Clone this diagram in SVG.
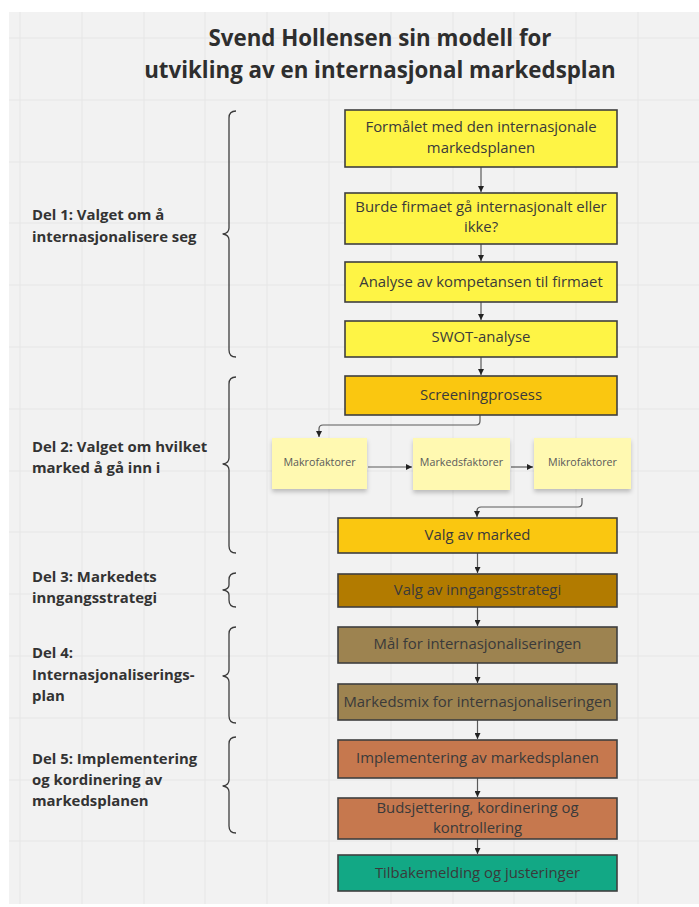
<svg xmlns="http://www.w3.org/2000/svg" width="699" height="907" viewBox="0 0 699 907">
  <defs>
    <style>
      .title { font-family: "Open Sans", "Liberation Sans", sans-serif; font-weight: 700; font-size: 22.3px; fill: #2e2e2e; text-anchor: middle; }
      .part { font-family: "Open Sans", "Liberation Sans", sans-serif; font-weight: 700; font-size: 14.9px; fill: #333333; }
      .box { stroke: #3f3f3f; stroke-width: 1.6; }
      .label { font-family: "Open Sans", "Liberation Sans", sans-serif; font-size: 14.9px; fill: #3a3a3a; text-anchor: middle; }
      .sticky { fill: #fff9b1; }
      .stxt { font-family: "Open Sans", "Liberation Sans", sans-serif; font-size: 10.7px; fill: #5a5a5a; text-anchor: middle; }
      .brace { fill: none; stroke: #3c3c3c; stroke-width: 1.3; stroke-linejoin: round; }
      .conn { fill: none; stroke: #5a5a5a; stroke-width: 1.2; }
      .grid { stroke: #e6e6e6; stroke-width: 1; }
      .y1 { fill: #fef445; }
      .y2 { fill: #fac710; }
      .y3 { fill: #b27b00; }
      .tan { fill: #9d8350; }
      .rust { fill: #c6784e; }
      .teal { fill: #12a885; }
    </style>
    <marker id="arrow" viewBox="0 0 10 10" refX="10" refY="5" markerWidth="6" markerHeight="6" orient="auto" markerUnits="userSpaceOnUse">
      <path d="M0,0 L10,5 L0,10 z" fill="#222222"/>
    </marker>
    <filter id="stickyShadow" x="-20%" y="-20%" width="140%" height="150%">
      <feDropShadow dx="0" dy="3" stdDeviation="2" flood-color="#000000" flood-opacity="0.22"/>
    </filter>
  </defs>

  <!-- canvas -->
  <rect width="699" height="907" fill="#ffffff"/>
  <rect x="9" y="12" width="690" height="892" fill="#f2f2f2"/>
  <g id="grid">
    <line class="grid" x1="20" y1="12" x2="20" y2="904"/>
    <line class="grid" x1="82" y1="12" x2="82" y2="904"/>
    <line class="grid" x1="144" y1="12" x2="144" y2="904"/>
    <line class="grid" x1="205" y1="12" x2="205" y2="904"/>
    <line class="grid" x1="267" y1="12" x2="267" y2="904"/>
    <line class="grid" x1="329" y1="12" x2="329" y2="904"/>
    <line class="grid" x1="391" y1="12" x2="391" y2="904"/>
    <line class="grid" x1="453" y1="12" x2="453" y2="904"/>
    <line class="grid" x1="514" y1="12" x2="514" y2="904"/>
    <line class="grid" x1="576" y1="12" x2="576" y2="904"/>
    <line class="grid" x1="638" y1="12" x2="638" y2="904"/>
    <line class="grid" x1="9" y1="38" x2="699" y2="38"/>
    <line class="grid" x1="9" y1="100" x2="699" y2="100"/>
    <line class="grid" x1="9" y1="162" x2="699" y2="162"/>
    <line class="grid" x1="9" y1="223" x2="699" y2="223"/>
    <line class="grid" x1="9" y1="285" x2="699" y2="285"/>
    <line class="grid" x1="9" y1="347" x2="699" y2="347"/>
    <line class="grid" x1="9" y1="409" x2="699" y2="409"/>
    <line class="grid" x1="9" y1="471" x2="699" y2="471"/>
    <line class="grid" x1="9" y1="532" x2="699" y2="532"/>
    <line class="grid" x1="9" y1="594" x2="699" y2="594"/>
    <line class="grid" x1="9" y1="656" x2="699" y2="656"/>
    <line class="grid" x1="9" y1="718" x2="699" y2="718"/>
    <line class="grid" x1="9" y1="780" x2="699" y2="780"/>
    <line class="grid" x1="9" y1="841" x2="699" y2="841"/>
  </g>

  <!-- title -->
  <g id="title">
    <text class="title" x="380" y="46">Svend Hollensen sin modell for</text>
    <text class="title" x="380" y="78">utvikling av en internasjonal markedsplan</text>
  </g>

  <!-- part labels and braces -->
  <g id="part1">
    <path class="brace" d="M236,111 Q229,111 229,118 L229,228 Q229,233 223,234 Q229,235 229,240 L229,350 Q229,357 236,357"/>
    <text class="part" x="32" y="220">Del 1: Valget om å</text>
    <text class="part" x="32" y="242">internasjonalisere seg</text>
  </g>
  <g id="part2">
    <path class="brace" d="M236,377 Q229,377 229,384 L229,458 Q229,463 223,464 Q229,465 229,470 L229,546 Q229,553 236,553"/>
    <text class="part" x="32" y="452">Del 2: Valget om hvilket</text>
    <text class="part" x="32" y="473">marked å gå inn i</text>
  </g>
  <g id="part3">
    <path class="brace" d="M236,573 Q229,573 229,580 L229,585 Q229,589 223,590 Q229,591 229,595 L229,600 Q229,607 236,607"/>
    <text class="part" x="32" y="582">Del 3: Markedets</text>
    <text class="part" x="32" y="603">inngangsstrategi</text>
  </g>
  <g id="part4">
    <path class="brace" d="M236,627 Q229,627 229,634 L229,670 Q229,675 223,676 Q229,677 229,682 L229,716 Q229,723 236,723"/>
    <text class="part" x="32" y="658">Del 4:</text>
    <text class="part" x="32" y="680">Internasjonaliserings-</text>
    <text class="part" x="32" y="701">plan</text>
  </g>
  <g id="part5">
    <path class="brace" d="M236,737 Q229,737 229,744 L229,780 Q229,785 223,786 Q229,787 229,792 L229,826 Q229,833 236,833"/>
    <text class="part" x="32" y="764">Del 5: Implementering</text>
    <text class="part" x="32" y="785">og kordinering av</text>
    <text class="part" x="32" y="806">markedsplanen</text>
  </g>

  <!-- connectors -->
  <g id="connectors">
    <line class="conn" x1="481" y1="167" x2="481" y2="192" marker-end="url(#arrow)"/>
    <line class="conn" x1="481" y1="244" x2="481" y2="261" marker-end="url(#arrow)"/>
    <line class="conn" x1="481" y1="302" x2="481" y2="320" marker-end="url(#arrow)"/>
    <line class="conn" x1="481" y1="357" x2="481" y2="375" marker-end="url(#arrow)"/>
    <path class="conn" d="M480,415 L480,421 Q480,425 476,425 L323,425 Q319,425 319,429 L319,437" marker-end="url(#arrow)"/>
    <line class="conn" x1="368" y1="467" x2="412" y2="467" marker-end="url(#arrow)"/>
    <line class="conn" x1="511" y1="467" x2="533" y2="467" marker-end="url(#arrow)"/>
    <path class="conn" d="M582,498 L582,503 Q582,507 578,507 L481,507 Q477,507 477,511 L477,517" marker-end="url(#arrow)"/>
    <line class="conn" x1="477.5" y1="553" x2="477.5" y2="573" marker-end="url(#arrow)"/>
    <line class="conn" x1="477.5" y1="607" x2="477.5" y2="626" marker-end="url(#arrow)"/>
    <line class="conn" x1="477.5" y1="663" x2="477.5" y2="683" marker-end="url(#arrow)"/>
    <line class="conn" x1="477.5" y1="720" x2="477.5" y2="739" marker-end="url(#arrow)"/>
    <line class="conn" x1="477.5" y1="778" x2="477.5" y2="797" marker-end="url(#arrow)"/>
    <line class="conn" x1="477.5" y1="839" x2="477.5" y2="854" marker-end="url(#arrow)"/>
  </g>

  <!-- process steps -->
  <g id="formalet">
    <rect class="box y1" x="345" y="110" width="272" height="57"/>
    <text class="label" x="481" y="132">Formålet med den internasjonale</text>
    <text class="label" x="481" y="153">markedsplanen</text>
  </g>
  <g id="burde">
    <rect class="box y1" x="345" y="193" width="272" height="51"/>
    <text class="label" x="481" y="212">Burde firmaet gå internasjonalt eller</text>
    <text class="label" x="481" y="232">ikke?</text>
  </g>
  <g id="analyse">
    <rect class="box y1" x="345" y="262" width="272" height="40"/>
    <text class="label" x="481" y="287">Analyse av kompetansen til firmaet</text>
  </g>
  <g id="swot">
    <rect class="box y1" x="345" y="321" width="272" height="36"/>
    <text class="label" x="481" y="342">SWOT-analyse</text>
  </g>
  <g id="screening">
    <rect class="box y2" x="345" y="376" width="272" height="39"/>
    <text class="label" x="481" y="400">Screeningprosess</text>
  </g>
  <g id="makro">
    <rect class="sticky" x="272" y="438" width="95" height="51" filter="url(#stickyShadow)"/>
    <text class="stxt" x="319.5" y="466">Makrofaktorer</text>
  </g>
  <g id="markeds">
    <rect class="sticky" x="413" y="438" width="97" height="52" filter="url(#stickyShadow)"/>
    <text class="stxt" x="461.5" y="466">Markedsfaktorer</text>
  </g>
  <g id="mikro">
    <rect class="sticky" x="534" y="438" width="97" height="51" filter="url(#stickyShadow)"/>
    <text class="stxt" x="582.5" y="466">Mikrofaktorer</text>
  </g>
  <g id="valg-marked">
    <rect class="box y2" x="338" y="518" width="279" height="35"/>
    <text class="label" x="477.5" y="540">Valg av marked</text>
  </g>
  <g id="inngangsstrategi">
    <rect class="box y3" x="338" y="574" width="279" height="33"/>
    <text class="label" x="477.5" y="595">Valg av inngangsstrategi</text>
  </g>
  <g id="mal">
    <rect class="box tan" x="338" y="627" width="279" height="36"/>
    <text class="label" x="477.5" y="649">Mål for internasjonaliseringen</text>
  </g>
  <g id="markedsmix">
    <rect class="box tan" x="338" y="684" width="279" height="36"/>
    <text class="label" x="477.5" y="707">Markedsmix for internasjonaliseringen</text>
  </g>
  <g id="implementering">
    <rect class="box rust" x="338" y="740" width="279" height="38"/>
    <text class="label" x="477.5" y="763">Implementering av markedsplanen</text>
  </g>
  <g id="budsjettering">
    <rect class="box rust" x="338" y="798" width="279" height="41"/>
    <text class="label" x="477.5" y="813">Budsjettering, kordinering og</text>
    <text class="label" x="477.5" y="833">kontrollering</text>
  </g>
  <g id="tilbakemelding">
    <rect class="box teal" x="338" y="855" width="279" height="36"/>
    <text class="label" x="477.5" y="878">Tilbakemelding og justeringer</text>
  </g>
</svg>
